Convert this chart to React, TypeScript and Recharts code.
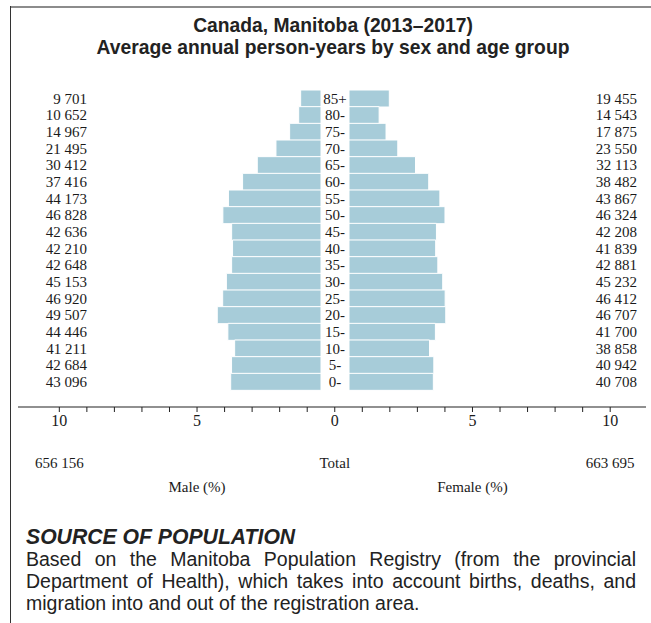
import React from 'react';
import { BarChart, Bar, XAxis, YAxis, ComposedChart } from 'recharts';

const AGE_GROUPS = ['85+', '80-', '75-', '70-', '65-', '60-', '55-', '50-', '45-', '40-', '35-', '30-', '25-', '20-', '15-', '10-', '5-', '0-'];
const MALE_COUNTS = [9701, 10652, 14967, 21495, 30412, 37416, 44173, 46828, 42636, 42210, 42648, 45153, 46920, 49507, 44446, 41211, 42684, 43096];
const FEMALE_COUNTS = [19455, 14543, 17875, 23550, 32113, 38482, 43867, 46324, 42208, 41839, 42881, 45232, 46412, 46707, 41700, 38858, 40942, 40708];
const MALE_TOTAL = 656156;
const FEMALE_TOTAL = 663695;
const AXIS_TICKS = [-10, -9, -8, -7, -6, -5, -4, -3, -2, -1, 0, 1, 2, 3, 4, 5, 6, 7, 8, 9, 10];
const TOTAL_TICKS = [-10, 0, 10];
const SEX_TICKS = [-5, 5];

const fmt = (n: number) => String(n).replace(/\B(?=(\d{3})+(?!\d))/g, ' ');

const data = AGE_GROUPS.map((age, i) => ({
  age,
  maleCount: fmt(MALE_COUNTS[i]),
  femaleCount: fmt(FEMALE_COUNTS[i]),
  malePct: (MALE_COUNTS[i] / MALE_TOTAL) * 100,
  femalePct: (FEMALE_COUNTS[i] / FEMALE_TOTAL) * 100,
}));
const axisData = AXIS_TICKS.map((v) => ({ v }));

const PX_PER_PCT = 13.75;
const BAR_FILL = '#a7ccd9';
const SERIF = '"Liberation Serif", "Times New Roman", serif';
const SANS = '"Liberation Sans", Arial, sans-serif';

const makeTick = (anchor: 'start' | 'middle' | 'end', size = 15) => (props: any) => {
  const { x, y, payload } = props;
  return (
    <text x={x} y={y} dy="0.35em" textAnchor={anchor} fontFamily={SERIF} fontSize={size} fill="#1a1a1a">
      {payload.value}
    </text>
  );
};

export default function App() {
  const maleLeft = 92;
  const maleRight = 321;
  const femLeft = 349;
  const femRight = 591;
  return (
    <div style={{ position: 'absolute', left: 0, top: 0, width: 651, height: 623, background: '#fff', overflow: 'hidden' }}>
      <div style={{ position: 'absolute', left: 10, top: 6, width: 641, height: 2, background: '#8c8c8c' }} />
      <div style={{ position: 'absolute', left: 10, top: 6, width: 1, height: 617, background: '#333' }} />
      <div style={{ position: 'absolute', left: 10, top: 15, width: 646, textAlign: 'center', fontFamily: SANS, fontWeight: 700, fontSize: 19.3, lineHeight: '22px', color: '#222' }}>
        <div>Canada, Manitoba (2013–2017)</div>
        <div>Average annual person-years by sex and age group</div>
      </div>

      <div style={{ position: 'absolute', left: 0, top: 80 }}>
        <BarChart width={335} height={320} data={data} layout="vertical" barCategoryGap={0} margin={{ top: 10, bottom: 10, left: 0, right: 335 - maleRight }}>
          <XAxis type="number" hide reversed domain={[0, (maleRight - maleLeft) / PX_PER_PCT]} allowDataOverflow />
          <YAxis type="category" dataKey="maleCount" width={maleLeft} interval={0} axisLine={false} tickLine={false} tickSize={0} tickMargin={5} tick={makeTick('end')} />
          <Bar dataKey="malePct" fill={BAR_FILL} stroke="#ffffff" strokeWidth={1} isAnimationActive={false} />
        </BarChart>
      </div>

      <div style={{ position: 'absolute', left: 300, top: 80 }}>
        <BarChart width={351} height={320} data={data} layout="vertical" barCategoryGap={0} margin={{ top: 10, bottom: 10, left: 0, right: 0 }}>
          <XAxis type="number" hide domain={[0, (femRight - femLeft) / PX_PER_PCT]} allowDataOverflow />
          <YAxis yAxisId="age" type="category" dataKey="age" width={femLeft - 300} interval={0} axisLine={false} tickLine={false} tickSize={0} tickMargin={14} tick={makeTick('middle')} />
          <YAxis yAxisId="cnt" orientation="right" type="category" dataKey="femaleCount" width={651 - femRight} interval={0} axisLine={false} tickLine={false} tickSize={0} tickMargin={637 - femRight} tick={makeTick('end')} />
          <Bar yAxisId="age" dataKey="femalePct" fill={BAR_FILL} stroke="#ffffff" strokeWidth={1} isAnimationActive={false} />
        </BarChart>
      </div>

      <div style={{ position: 'absolute', left: 0, top: 400 }}>
        <ComposedChart width={651} height={120} data={axisData} margin={{ top: 7, left: 18, right: 5, bottom: 0 }}>
          <XAxis xAxisId="a_pct" dataKey="v" type="number" domain={[-11.5, 11.3]} ticks={AXIS_TICKS} interval={0} height={30}
            axisLine={{ stroke: '#222', strokeWidth: 1.2 }} tickLine={{ stroke: '#222' }} tickSize={5} tickMargin={3}
            tickFormatter={(v: number) => (v % 5 === 0 ? String(Math.abs(v)) : '')}
            tick={{ fontFamily: SERIF, fontSize: 16, fill: '#1a1a1a' }} />
          <XAxis xAxisId="b_tot" dataKey="v" type="number" domain={[-11.5, 11.3]} ticks={TOTAL_TICKS} interval={0} height={41}
            axisLine={false} tickLine={false} tickSize={0} tickMargin={20}
            tickFormatter={(v: number) => (v === 0 ? 'Total' : v < 0 ? fmt(MALE_TOTAL) : fmt(FEMALE_TOTAL))}
            tick={{ fontFamily: SERIF, fontSize: 15, fill: '#1a1a1a' }} />
          <XAxis xAxisId="c_sex" dataKey="v" type="number" domain={[-11.5, 11.3]} ticks={SEX_TICKS} interval={0} height={42}
            axisLine={false} tickLine={false} tickSize={0} tickMargin={3}
            tickFormatter={(v: number) => (v < 0 ? 'Male (%)' : 'Female (%)')}
            tick={{ fontFamily: SERIF, fontSize: 15, fill: '#1a1a1a' }} />
        </ComposedChart>
      </div>

      <div style={{ position: 'absolute', left: 26, top: 526, fontFamily: SANS, fontWeight: 700, fontStyle: 'italic', fontSize: 21.2, lineHeight: '21px', color: '#222', whiteSpace: 'nowrap' }}>
        SOURCE OF POPULATION
      </div>
      <div style={{ position: 'absolute', left: 26, top: 548, width: 610, textAlign: 'justify', fontFamily: SANS, fontSize: 19.5, lineHeight: '22px', color: '#222' }}>
        Based on the Manitoba Population Registry (from the provincial Department of Health), which takes into account births, deaths, and migration into and out of the registration area.
      </div>
    </div>
  );
}
